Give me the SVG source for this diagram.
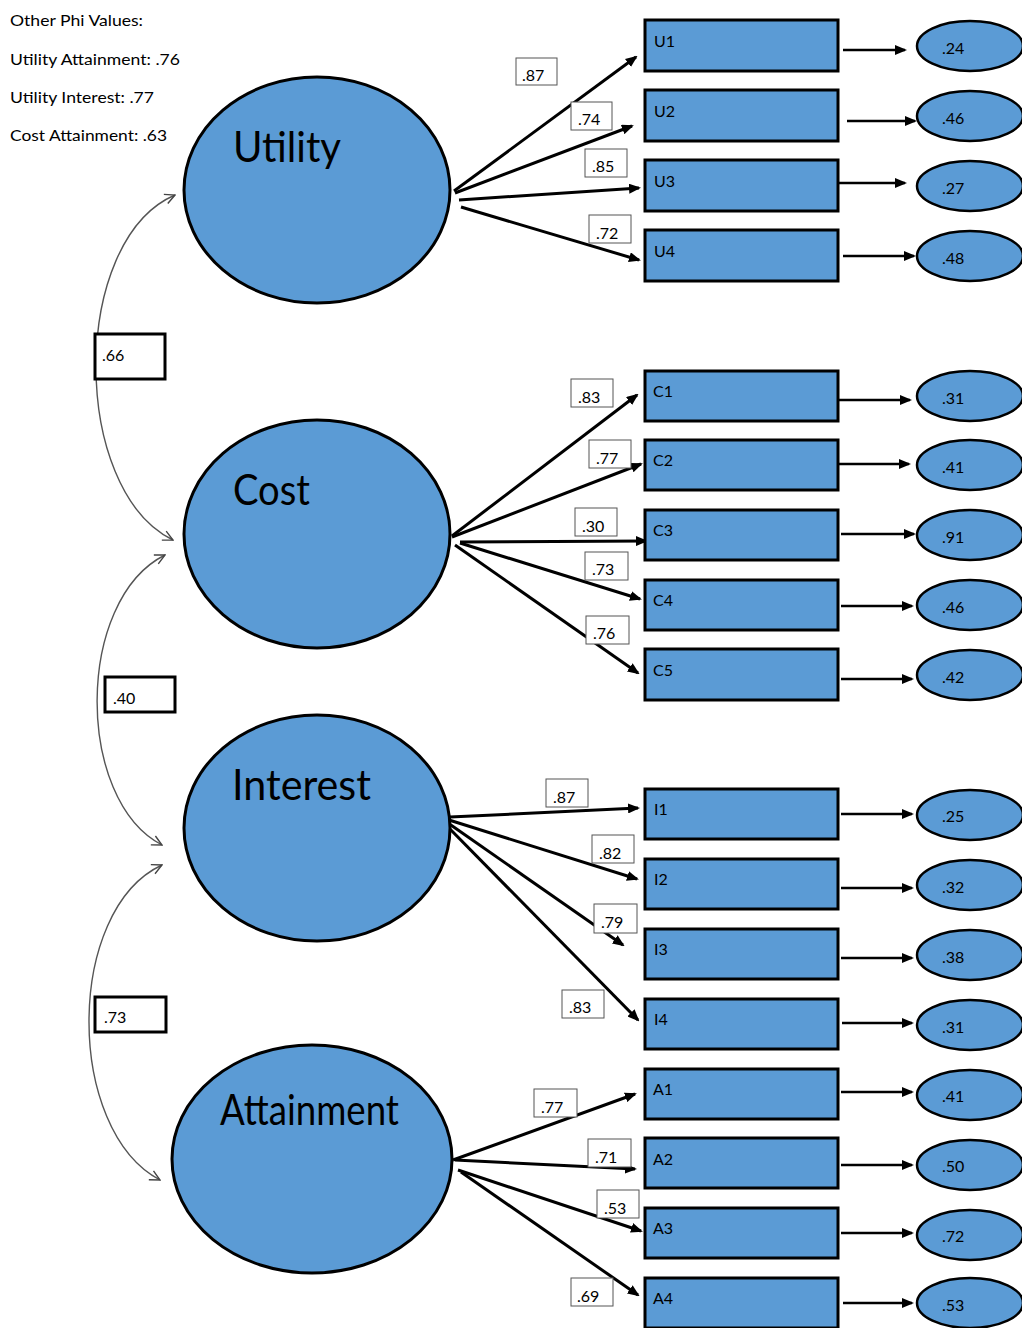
<svg xmlns="http://www.w3.org/2000/svg" width="1022" height="1328" viewBox="0 0 1022 1328">
<defs>
<marker id="ah" viewBox="0 0 12 10" refX="10" refY="5" markerWidth="12" markerHeight="10" markerUnits="userSpaceOnUse" orient="auto"><path d="M0,0 L12,5 L0,10 z" fill="#000"/></marker>
<marker id="oh" viewBox="0 0 12 12" refX="11" refY="6" markerWidth="12" markerHeight="12" markerUnits="userSpaceOnUse" orient="auto-start-reverse"><path d="M1,1 L11,6 L1,11" fill="none" stroke="#444" stroke-width="1.4"/></marker>
<style>
.lat{fill:#5B9BD5;stroke:#000;stroke-width:3}
.obs{fill:#5B9BD5;stroke:#000;stroke-width:3}
.err{fill:#5B9BD5;stroke:#000;stroke-width:2.5}
.t{font-family:Lato,"Open Sans","Liberation Sans",sans-serif;font-size:16px;fill:#000}
.big{font-family:Lato,"Open Sans","Liberation Sans",sans-serif;font-size:42px;fill:#000}
.lb{fill:#fff;stroke:#555;stroke-width:1}
.cb{fill:#fff;stroke:#000;stroke-width:3}
.ld{stroke:#000;stroke-width:3;fill:none;marker-end:url(#ah)}
.rs{stroke:#000;stroke-width:2.5;fill:none;marker-end:url(#ah)}
.cv{stroke:#555;stroke-width:1.4;fill:none;marker-start:url(#oh);marker-end:url(#oh)}
</style>
</defs>

<g id="phi-notes">
<text class="t" x="10" y="26" textLength="133" lengthAdjust="spacingAndGlyphs">Other Phi Values:</text>
<text class="t" x="10" y="65" textLength="170" lengthAdjust="spacingAndGlyphs">Utility Attainment: .76</text>
<text class="t" x="10" y="103" textLength="144" lengthAdjust="spacingAndGlyphs">Utility Interest: .77</text>
<text class="t" x="10" y="141" textLength="157" lengthAdjust="spacingAndGlyphs">Cost Attainment: .63</text>
</g>

<g id="connectors">
<!-- covariances -->
<path class="cv" d="M175,195 C70,240 70,490 173,540"/>
<path class="cv" d="M165,555 C75,600 75,800 162,845"/>
<path class="cv" d="M162,865 C65,910 65,1130 160,1180"/>
<!-- Utility loadings -->
<line class="ld" x1="454" y1="191" x2="636" y2="57"/>
<line class="ld" x1="455" y1="193" x2="632" y2="126"/>
<line class="ld" x1="459" y1="200" x2="639" y2="188"/>
<line class="ld" x1="461" y1="207" x2="639" y2="260"/>
<!-- Cost loadings -->
<line class="ld" x1="452" y1="536" x2="637" y2="395"/>
<line class="ld" x1="452" y1="537" x2="641" y2="464"/>
<line class="ld" x1="460" y1="542" x2="646" y2="541"/>
<line class="ld" x1="460" y1="543" x2="640" y2="599"/>
<line class="ld" x1="455" y1="545" x2="638" y2="673"/>
<!-- Interest loadings -->
<line class="ld" x1="450" y1="817" x2="638" y2="808"/>
<line class="ld" x1="449" y1="820" x2="637" y2="879"/>
<line class="ld" x1="448" y1="823" x2="623" y2="945"/>
<line class="ld" x1="447" y1="826" x2="638" y2="1020"/>
<!-- Attainment loadings -->
<line class="ld" x1="453" y1="1160" x2="635" y2="1094"/>
<line class="ld" x1="455" y1="1160" x2="635" y2="1169"/>
<line class="ld" x1="458" y1="1170" x2="641" y2="1231"/>
<line class="ld" x1="461" y1="1172" x2="638" y2="1295"/>
<!-- residual arrows -->
<line class="rs" x1="843" y1="50" x2="905" y2="50"/>
<line class="rs" x1="847" y1="121" x2="915" y2="121"/>
<line class="rs" x1="835" y1="183" x2="905" y2="183"/>
<line class="rs" x1="843" y1="256" x2="914" y2="256"/>
<line class="rs" x1="839" y1="400" x2="910" y2="400"/>
<line class="rs" x1="836" y1="464" x2="909" y2="464"/>
<line class="rs" x1="841" y1="534" x2="914" y2="534"/>
<line class="rs" x1="841" y1="606" x2="912" y2="606"/>
<line class="rs" x1="841" y1="679" x2="912" y2="679"/>
<line class="rs" x1="841" y1="814" x2="912" y2="814"/>
<line class="rs" x1="841" y1="888" x2="912" y2="888"/>
<line class="rs" x1="841" y1="958" x2="912" y2="958"/>
<line class="rs" x1="842" y1="1023" x2="912" y2="1023"/>
<line class="rs" x1="841" y1="1092" x2="912" y2="1092"/>
<line class="rs" x1="841" y1="1165" x2="912" y2="1165"/>
<line class="rs" x1="841" y1="1233" x2="912" y2="1233"/>
<line class="rs" x1="843" y1="1303" x2="912" y2="1303"/>
</g>

<g id="cov-labels">
<g id="cov-uc"><rect class="cb" x="95" y="334" width="70" height="45"/><text class="t" x="102" y="361">.66</text></g>
<g id="cov-ci"><rect class="cb" x="105" y="677" width="70" height="35"/><text class="t" x="113" y="704">.40</text></g>
<g id="cov-ia"><rect class="cb" x="95" y="997" width="71" height="35"/><text class="t" x="104" y="1023">.73</text></g>
</g>

<g id="loading-labels">
<g><rect class="lb" x="516" y="58" width="41" height="27"/><text class="t" x="522" y="81">.87</text></g>
<g><rect class="lb" x="571" y="102" width="41" height="28"/><text class="t" x="578" y="125">.74</text></g>
<g><rect class="lb" x="585" y="149" width="42" height="28"/><text class="t" x="592" y="172">.85</text></g>
<g><rect class="lb" x="589" y="215" width="42" height="28"/><text class="t" x="596" y="239">.72</text></g>
<g><rect class="lb" x="571" y="379" width="42" height="28"/><text class="t" x="578" y="403">.83</text></g>
<g><rect class="lb" x="589" y="440" width="42" height="28"/><text class="t" x="596" y="464">.77</text></g>
<g><rect class="lb" x="575" y="508" width="42" height="28"/><text class="t" x="582" y="532">.30</text></g>
<g><rect class="lb" x="585" y="552" width="43" height="28"/><text class="t" x="592" y="575">.73</text></g>
<g><rect class="lb" x="586" y="616" width="43" height="28"/><text class="t" x="593" y="639">.76</text></g>
<g><rect class="lb" x="546" y="779" width="42" height="28"/><text class="t" x="553" y="803">.87</text></g>
<g><rect class="lb" x="592" y="835" width="42" height="28"/><text class="t" x="599" y="859">.82</text></g>
<g><rect class="lb" x="594" y="904" width="43" height="29"/><text class="t" x="601" y="928">.79</text></g>
<g><rect class="lb" x="562" y="990" width="42" height="28"/><text class="t" x="569" y="1013">.83</text></g>
<g><rect class="lb" x="534" y="1089" width="43" height="28"/><text class="t" x="541" y="1113">.77</text></g>
<g><rect class="lb" x="588" y="1139" width="43" height="28"/><text class="t" x="595" y="1163">.71</text></g>
<g><rect class="lb" x="597" y="1190" width="42" height="28"/><text class="t" x="604" y="1214">.53</text></g>
<g><rect class="lb" x="571" y="1278" width="42" height="28"/><text class="t" x="577" y="1302">.69</text></g>
</g>

<g id="Utility"><ellipse class="lat" cx="317" cy="190" rx="133" ry="113"/><text class="big" x="233" y="162" textLength="108" lengthAdjust="spacingAndGlyphs">Utility</text></g>
<g id="Cost"><ellipse class="lat" cx="317" cy="534" rx="133" ry="114"/><text class="big" x="233" y="505" textLength="77" lengthAdjust="spacingAndGlyphs">Cost</text></g>
<g id="Interest"><ellipse class="lat" cx="317" cy="828" rx="133" ry="113"/><text class="big" x="232" y="800" textLength="139" lengthAdjust="spacingAndGlyphs">Interest</text></g>
<g id="Attainment"><ellipse class="lat" cx="312" cy="1159" rx="140" ry="114"/><text class="big" x="220" y="1125" textLength="179" lengthAdjust="spacingAndGlyphs">Attainment</text></g>

<g id="U1"><rect class="obs" x="645" y="20" width="193" height="51"/><text class="t" x="654" y="47">U1</text></g>
<g id="U2"><rect class="obs" x="645" y="90" width="193" height="51"/><text class="t" x="654" y="117">U2</text></g>
<g id="U3"><rect class="obs" x="645" y="160" width="193" height="51"/><text class="t" x="654" y="187">U3</text></g>
<g id="U4"><rect class="obs" x="645" y="230" width="193" height="51"/><text class="t" x="654" y="257">U4</text></g>
<g id="C1"><rect class="obs" x="645" y="371" width="193" height="50"/><text class="t" x="653" y="397">C1</text></g>
<g id="C2"><rect class="obs" x="645" y="440" width="193" height="50"/><text class="t" x="653" y="466">C2</text></g>
<g id="C3"><rect class="obs" x="645" y="510" width="193" height="50"/><text class="t" x="653" y="536">C3</text></g>
<g id="C4"><rect class="obs" x="645" y="580" width="193" height="50"/><text class="t" x="653" y="606">C4</text></g>
<g id="C5"><rect class="obs" x="645" y="649" width="193" height="51"/><text class="t" x="653" y="676">C5</text></g>
<g id="I1"><rect class="obs" x="645" y="789" width="193" height="50"/><text class="t" x="654" y="815">I1</text></g>
<g id="I2"><rect class="obs" x="645" y="859" width="193" height="50"/><text class="t" x="654" y="885">I2</text></g>
<g id="I3"><rect class="obs" x="645" y="929" width="193" height="50"/><text class="t" x="654" y="955">I3</text></g>
<g id="I4"><rect class="obs" x="645" y="999" width="193" height="50"/><text class="t" x="654" y="1025">I4</text></g>
<g id="A1"><rect class="obs" x="645" y="1069" width="193" height="50"/><text class="t" x="653" y="1095">A1</text></g>
<g id="A2"><rect class="obs" x="645" y="1138" width="193" height="50"/><text class="t" x="653" y="1165">A2</text></g>
<g id="A3"><rect class="obs" x="645" y="1208" width="193" height="50"/><text class="t" x="653" y="1234">A3</text></g>
<g id="A4"><rect class="obs" x="645" y="1278" width="193" height="50"/><text class="t" x="653" y="1304">A4</text></g>

<g id="eU1"><ellipse class="err" cx="970" cy="46" rx="53" ry="25"/><text class="t" x="942" y="54">.24</text></g>
<g id="eU2"><ellipse class="err" cx="970" cy="116" rx="53" ry="25"/><text class="t" x="942" y="124">.46</text></g>
<g id="eU3"><ellipse class="err" cx="970" cy="186" rx="53" ry="25"/><text class="t" x="942" y="194">.27</text></g>
<g id="eU4"><ellipse class="err" cx="970" cy="256" rx="53" ry="25"/><text class="t" x="942" y="264">.48</text></g>
<g id="eC1"><ellipse class="err" cx="970" cy="396" rx="53" ry="25"/><text class="t" x="942" y="404">.31</text></g>
<g id="eC2"><ellipse class="err" cx="970" cy="465" rx="53" ry="25"/><text class="t" x="942" y="473">.41</text></g>
<g id="eC3"><ellipse class="err" cx="970" cy="535" rx="53" ry="25"/><text class="t" x="942" y="543">.91</text></g>
<g id="eC4"><ellipse class="err" cx="970" cy="605" rx="53" ry="25"/><text class="t" x="942" y="613">.46</text></g>
<g id="eC5"><ellipse class="err" cx="970" cy="675" rx="53" ry="25"/><text class="t" x="942" y="683">.42</text></g>
<g id="eI1"><ellipse class="err" cx="970" cy="815" rx="53" ry="25"/><text class="t" x="942" y="822">.25</text></g>
<g id="eI2"><ellipse class="err" cx="970" cy="885" rx="53" ry="25"/><text class="t" x="942" y="893">.32</text></g>
<g id="eI3"><ellipse class="err" cx="970" cy="955" rx="53" ry="25"/><text class="t" x="942" y="963">.38</text></g>
<g id="eI4"><ellipse class="err" cx="970" cy="1025" rx="53" ry="25"/><text class="t" x="942" y="1033">.31</text></g>
<g id="eA1"><ellipse class="err" cx="970" cy="1095" rx="53" ry="25"/><text class="t" x="942" y="1102">.41</text></g>
<g id="eA2"><ellipse class="err" cx="970" cy="1165" rx="53" ry="25"/><text class="t" x="942" y="1172">.50</text></g>
<g id="eA3"><ellipse class="err" cx="970" cy="1235" rx="53" ry="25"/><text class="t" x="942" y="1242">.72</text></g>
<g id="eA4"><ellipse class="err" cx="970" cy="1303" rx="53" ry="25"/><text class="t" x="942" y="1311">.53</text></g>
</svg>
